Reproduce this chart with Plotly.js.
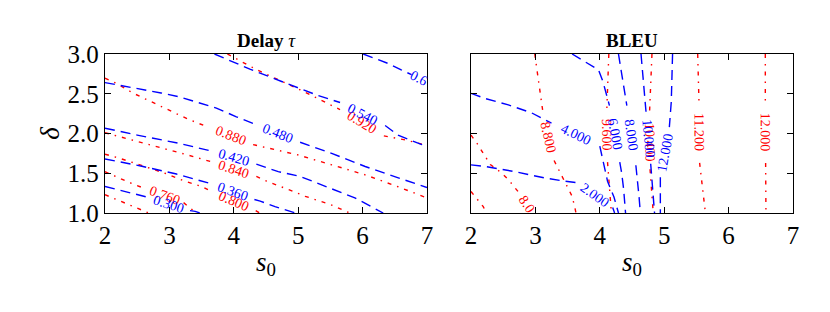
<!DOCTYPE html>
<html>
<head>
<meta charset="utf-8">
<script src="https://cdn.plot.ly/plotly-3.0.1.min.js"></script>
<style>html,body{margin:0;padding:0;background:#fff;}#chart{width:830px;height:312px;}</style>
</head>
<body>
<div id="chart"></div>
<script>
// ---------------- DATA ----------------
// Panel titles and axis labels
const panelTitles = ["<b>Delay</b> <i>τ</i>", "<b>BLEU</b>"];
const xTickVals = [2, 3, 4, 5, 6, 7];
const yTickVals = [1.0, 1.5, 2.0, 2.5, 3.0];

// Delay tau: blue dashed contours (null = gap where the inline label sits)
const tauB300X = [2.00, 2.32, 2.60, 2.68, null, 3.32, 3.40, 3.48];
const tauB300Y = [1.334, 1.27, 1.22, 1.195, null, 1.03, 1.02, 1.00];
const tauB360X = [2.00, 2.59, 3.11, 3.57, 3.64, null, 4.32, 4.41, 4.64, 4.90, 4.96];
const tauB360Y = [1.68, 1.585, 1.49, 1.39, 1.37, null, 1.17, 1.15, 1.08, 1.02, 1.00];
const tauB420X = [2.00, 2.50, 3.13, 3.50, 3.65, null, 4.35, 4.69, 5.03, 5.52, 5.88, 6.32];
const tauB420Y = [2.067, 1.98, 1.88, 1.81, 1.78, null, 1.615, 1.52, 1.46, 1.31, 1.19, 1.00];
const tauB480X = [2.00, 2.28, 2.59, 2.87, 3.16, 3.44, 3.73, 4.04, 4.35, null, 5.03, 5.52, 6.04, 6.55, 7.00];
const tauB480Y = [2.64, 2.60, 2.55, 2.51, 2.46, 2.39, 2.32, 2.21, 2.11, null, 1.89, 1.75, 1.585, 1.44, 1.32];
const tauB540X = [3.70, 4.25, 4.82, 5.30, 5.65, null, 6.35, 6.55, 6.92, 7.00];
const tauB540Y = [3.00, 2.81, 2.63, 2.48, 2.39, null, 2.10, 1.98, 1.86, 1.85];
const tauB600X = [6.01, 6.40, 6.60, 6.76, null, 7.00];
const tauB600Y = [3.00, 2.88, 2.80, 2.74, null, 2.64];
const tauBlueLabels = ["0.300", "0.360", "0.420", "0.480", "0.540", "0.6"];

// Delay tau: red dash-dot contours
const tauR720X = [2.00, 2.18, 2.33, 2.61, 2.68];
const tauR720Y = [1.23, 1.17, 1.12, 1.03, 1.00];
const tauR760X = [2.00, 2.18, 2.33, 2.64, null, 3.22, 3.30, 3.42];
const tauR760Y = [1.52, 1.45, 1.40, 1.30, null, 1.13, 1.08, 1.00];
const tauR800X = [2.00, 2.18, 2.49, 2.93, 3.21, 3.51, 3.68, null, 4.34, 4.40];
const tauR800Y = [1.74, 1.70, 1.62, 1.50, 1.41, 1.33, 1.26, null, 1.03, 1.00];
const tauR840X = [2.00, 2.30, 2.64, 3.24, 3.65, null, 4.35, 4.51, 4.80, 4.98, 5.11, 5.52, 5.70, 5.80];
const tauR840Y = [2.01, 1.94, 1.87, 1.74, 1.645, null, 1.46, 1.40, 1.31, 1.25, 1.21, 1.10, 1.03, 1.00];
const tauR880X = [2.00, 2.18, 2.43, 2.72, 3.00, 3.29, 3.60, null, 4.30, 4.54, 5.00, 5.52, 6.04, 6.55, 7.00];
const tauR880Y = [2.695, 2.63, 2.51, 2.40, 2.29, 2.18, 2.08, null, 1.86, 1.816, 1.73, 1.606, 1.48, 1.33, 1.19];
const tauR920X = [3.90, 4.36, 5.03, 5.40, 5.65, null, 6.33, 6.66, 7.00];
const tauR920Y = [3.00, 2.80, 2.55, 2.40, 2.30, null, 1.97, 1.92, 1.85];
const tauRedLabels = [null, "0.760", "0.800", "0.840", "0.880", "0.920"];

// BLEU: blue dashed contours
const bleuB2X = [2.00, 2.22, 2.68, 3.15, 3.46, 3.66, null, 4.20, 4.23];
const bleuB2Y = [1.605, 1.585, 1.52, 1.44, 1.40, 1.38, null, 1.07, 1.00];
const bleuB4X = [2.00, 2.22, 2.58, 2.94, 3.25, null, 4.00, 4.05, 4.12, 4.22, 4.29];
const bleuB4Y = [2.505, 2.44, 2.36, 2.26, 2.13, null, 1.84, 1.65, 1.40, 1.20, 1.00];
const bleuB6X = [3.57, 3.82, 3.98, 4.05, 4.10, 4.15, null, 4.31, 4.34, 4.37, 4.40];
const bleuB6Y = [3.00, 2.88, 2.80, 2.65, 2.50, 2.35, null, 1.64, 1.50, 1.30, 1.00];
const bleuB8X = [4.29, 4.33, 4.37, 4.42, null, 4.56, 4.59, 4.61, 4.63];
const bleuB8Y = [3.00, 2.80, 2.60, 2.35, null, 1.60, 1.40, 1.20, 1.00];
const bleuB10X = [4.64, 4.67, 4.70, 4.72, null, 4.79, 4.81, 4.83, 4.85];
const bleuB10Y = [3.00, 2.70, 2.40, 2.25, null, 1.62, 1.40, 1.20, 1.00];
const bleuB12X = [5.13, 5.12, 5.11, 5.08, null, 4.94, 4.94, 4.94];
const bleuB12Y = [3.00, 2.70, 2.40, 2.08, null, 1.45, 1.20, 1.00];
const bleuBlueLabels = ["2.000", "4.000", "6.000", "8.000", "10.000", "12.000"];

// BLEU: red dash-dot contours
const bleuR72X = [2.00, 2.10, 2.19, 2.24];
const bleuR72Y = [1.27, 1.17, 1.08, 1.00];
const bleuR80X = [2.00, 2.09, 2.30, 2.48, 2.58, 2.71, 2.74, null, 3.00];
const bleuR80Y = [1.98, 1.88, 1.61, 1.50, 1.42, 1.29, 1.26, null, 0.96];
const bleuR88X = [2.99, 3.03, 3.08, 3.12, null, 3.29, 3.44, 3.57, 3.61, 3.63];
const bleuR88Y = [3.00, 2.75, 2.45, 2.25, null, 1.66, 1.42, 1.21, 1.08, 1.00];
const bleuR96X = [4.14, 4.12, 4.11, null, 4.12, 4.15, 4.18];
const bleuR96Y = [3.00, 2.60, 2.32, null, 1.64, 1.30, 1.00];
const bleuR104X = [4.81, 4.79, 4.77, null, 4.78, 4.80, 4.83];
const bleuR104Y = [3.00, 2.60, 2.22, null, 1.55, 1.30, 1.00];
const bleuR112X = [5.52, 5.53, 5.54, null, 5.55, 5.60, 5.64];
const bleuR112Y = [3.00, 2.70, 2.40, null, 1.63, 1.30, 1.00];
const bleuR120X = [6.57, 6.57, null, 6.575, 6.58];
const bleuR120Y = [3.00, 2.40, null, 1.63, 1.00];
const bleuRedLabels = [null, "8.0", "8.800", "9.600", "10.400", "11.200", "12.000"];

// ---------------- LAYOUT / DRAWING ----------------
const W = 830, H = 312;
const dom1 = [105 / W, 427 / W];
const dom2 = [471 / W, 793 / W];
const domY = [99 / H, 258 / H];
const xRange = [2, 7], yRange = [1, 3];
const FONT = "Liberation Serif, Times New Roman, serif";
const BLUE = "#0000ff", RED = "#ff0000";
const BLUE_DASH = "10px,6px";
const RED_DASH = "4px,6px,1.5px,6px";

const traces = [];
const annotations = [];

function pxScale(dom) {
  return {
    px: (dom[1] - dom[0]) * W / (xRange[1] - xRange[0]),
    py: (domY[1] - domY[0]) * H / (yRange[1] - yRange[0])
  };
}

function addContour(xs, ys, label, color, dash, panel) {
  const xa = panel === 1 ? "x" : "x2";
  const ya = panel === 1 ? "y" : "y2";
  traces.push({
    x: xs, y: ys, mode: "lines", xaxis: xa, yaxis: ya,
    line: {color: color, width: 1.4, dash: dash},
    connectgaps: false, hoverinfo: "skip", showlegend: false
  });
  const i = ys.indexOf(null);
  if (label && i > 0 && i + 1 < ys.length) {
    const s = pxScale(panel === 1 ? dom1 : dom2);
    const x1 = xs[i - 1], y1 = ys[i - 1], x2 = xs[i + 1], y2 = ys[i + 1];
    const dx = (x2 - x1) * s.px;
    const dy = -(y2 - y1) * s.py;
    let ang = Math.atan2(dy, dx) * 180 / Math.PI;
    if (ang > 90) ang -= 180;
    if (ang <= -90) ang += 180;
    annotations.push({
      x: (x1 + x2) / 2, y: (y1 + y2) / 2, xref: xa, yref: ya,
      text: label, showarrow: false, textangle: ang,
      xanchor: "center", yanchor: "middle",
      font: {family: FONT, size: 14, color: color}
    });
  }
}

const tauBlue = [[tauB300X, tauB300Y], [tauB360X, tauB360Y], [tauB420X, tauB420Y],
                 [tauB480X, tauB480Y], [tauB540X, tauB540Y], [tauB600X, tauB600Y]];
const tauRed = [[tauR720X, tauR720Y], [tauR760X, tauR760Y], [tauR800X, tauR800Y],
                [tauR840X, tauR840Y], [tauR880X, tauR880Y], [tauR920X, tauR920Y]];
const bleuBlue = [[bleuB2X, bleuB2Y], [bleuB4X, bleuB4Y], [bleuB6X, bleuB6Y],
                  [bleuB8X, bleuB8Y], [bleuB10X, bleuB10Y], [bleuB12X, bleuB12Y]];
const bleuRed = [[bleuR72X, bleuR72Y], [bleuR80X, bleuR80Y], [bleuR88X, bleuR88Y],
                 [bleuR96X, bleuR96Y], [bleuR104X, bleuR104Y], [bleuR112X, bleuR112Y],
                 [bleuR120X, bleuR120Y]];

tauRed.forEach((c, k) => addContour(c[0], c[1], tauRedLabels[k], RED, RED_DASH, 1));
tauBlue.forEach((c, k) => addContour(c[0], c[1], tauBlueLabels[k], BLUE, BLUE_DASH, 1));
bleuRed.forEach((c, k) => addContour(c[0], c[1], bleuRedLabels[k], RED, RED_DASH, 2));
bleuBlue.forEach((c, k) => addContour(c[0], c[1], bleuBlueLabels[k], BLUE, BLUE_DASH, 2));

// Panel titles
[dom1, dom2].forEach((d, k) => {
  annotations.push({
    x: (d[0] + d[1]) / 2, y: domY[1], xref: "paper", yref: "paper",
    yanchor: "bottom", xanchor: "center", yshift: 1,
    text: panelTitles[k], showarrow: false,
    font: {family: FONT, size: 19, color: "#000"}
  });
});

function xAxis(dom, anchor) {
  return {
    domain: dom, anchor: anchor, range: xRange, tickvals: xTickVals,
    ticks: "inside", ticklen: 6, tickwidth: 1, tickcolor: "#000",
    mirror: "allticks", showline: true, linecolor: "#000", linewidth: 1.3,
    showgrid: false, zeroline: false,
    tickfont: {family: FONT, size: 25, color: "#000"},
    title: {text: "<i>s</i><sub>0</sub>", font: {family: FONT, size: 27, color: "#000"}, standoff: 3}
  };
}
function yAxis(anchor, labels) {
  const ax = {
    domain: domY, anchor: anchor, range: yRange, tickvals: yTickVals, tickformat: ".1f",
    showticklabels: labels,
    ticks: "inside", ticklen: 6, tickwidth: 1, tickcolor: "#000",
    mirror: "allticks", showline: true, linecolor: "#000", linewidth: 1.3,
    showgrid: false, zeroline: false,
    tickfont: {family: FONT, size: 25, color: "#000"}
  };
  if (labels) ax.title = {text: "<i>δ</i>", font: {family: FONT, size: 27, color: "#000"}, standoff: 0};
  return ax;
}

const layout = {
  width: W, height: H,
  margin: {l: 0, r: 0, t: 0, b: 0},
  paper_bgcolor: "#fff", plot_bgcolor: "#fff",
  showlegend: false,
  font: {family: FONT, color: "#000"},
  xaxis: xAxis(dom1, "y"),
  yaxis: yAxis("x", true),
  xaxis2: xAxis(dom2, "y2"),
  yaxis2: yAxis("x2", false),
  annotations: annotations
};

Plotly.newPlot("chart", traces, layout, {staticPlot: true, displayModeBar: false});
</script>
</body>
</html>
